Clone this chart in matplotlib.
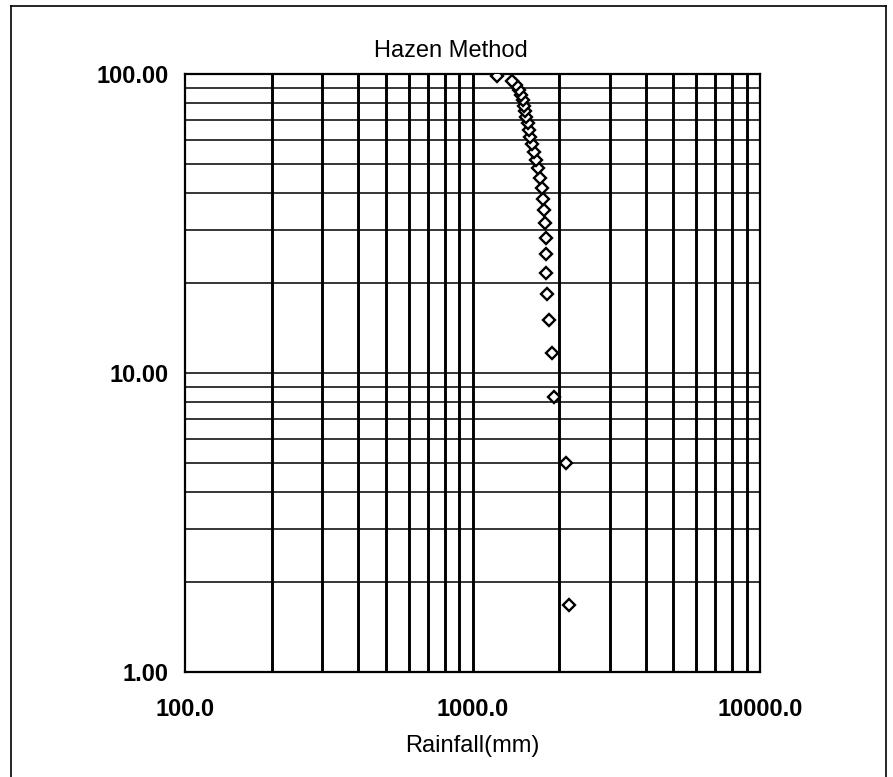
import matplotlib.pyplot as plt
from matplotlib.ticker import FixedLocator, FuncFormatter, NullFormatter
from matplotlib.lines import Line2D
import numpy as np

# Hazen plotting positions (%) and sorted rainfall (mm), n = 30
probability = [1.67, 5.00, 8.33, 11.67, 15.00, 18.33, 21.67, 25.00, 28.33, 31.67,
               35.00, 38.33, 41.67, 45.00, 48.33, 51.67, 55.00, 58.33, 61.67, 65.00,
               68.33, 71.67, 75.00, 78.33, 81.67, 85.00, 88.33, 91.67, 95.00, 98.33]
rainfall = [2160, 2120, 1914, 1889, 1843, 1810, 1808, 1805, 1800, 1790,
            1775, 1765, 1745, 1720, 1695, 1660, 1640, 1610, 1590, 1575,
            1555, 1540, 1525, 1510, 1495, 1480, 1455, 1420, 1371, 1216]

x_ticks = [100, 1000, 10000]
y_ticks = [1, 10, 100]

plt.rcParams['font.family'] = ['Liberation Sans', 'DejaVu Sans']

fig = plt.figure(figsize=(8.93, 7.77), dpi=100)
ax = fig.add_axes([0.2072, 0.1351, 0.6439, 0.7697])
ax.set_xscale('log')
ax.set_yscale('log')
ax.set_xlim(100, 10000)
ax.set_ylim(1, 100)

# grid at every major/minor decade line
xgrid = [m * 10 ** e for e in (2, 3) for m in range(1, 10)][1:]
ygrid = [m * 10 ** e for e in (0, 1) for m in range(1, 10)][1:]
for gx in xgrid:
    ax.axvline(gx, color='black', lw=2.1, zorder=1)
for gy in ygrid:
    ax.axhline(gy, color='black', lw=1.1, zorder=1)

ax.plot(rainfall, probability, linestyle='none', marker='D', ms=6.5,
        mfc='white', mec='black', mew=1.7, zorder=3)

ax.xaxis.set_major_locator(FixedLocator(x_ticks))
ax.yaxis.set_major_locator(FixedLocator(y_ticks))
ax.xaxis.set_minor_formatter(NullFormatter())
ax.yaxis.set_minor_formatter(NullFormatter())
ax.xaxis.set_major_formatter(FuncFormatter(lambda v, p: '%.1f' % v))
ax.yaxis.set_major_formatter(FuncFormatter(lambda v, p: '%.2f' % v))
ax.tick_params(which='both', length=0)
ax.tick_params(axis='x', pad=19, labelsize=17)
ax.tick_params(axis='y', pad=12, labelsize=17)
for lbl in ax.get_xticklabels() + ax.get_yticklabels():
    lbl.set_fontweight('bold')
for s in ax.spines.values():
    s.set_linewidth(1.6)
    s.set_color('black')

ax.set_xlabel('Rainfall(mm)', fontsize=17, labelpad=10)
fig.text(0.505, 0.934, 'Hazen Method', fontsize=17, ha='center', va='center')

# outer frame of the chart area
fig.add_artist(Line2D([0.012, 0.012], [0.0, 0.992], color='black', lw=1.2))
fig.add_artist(Line2D([0.012, 0.992], [0.992, 0.992], color='black', lw=1.2))
fig.add_artist(Line2D([0.992, 0.992], [0.0, 0.992], color='black', lw=1.2))

fig.savefig('out.png', dpi=100)
